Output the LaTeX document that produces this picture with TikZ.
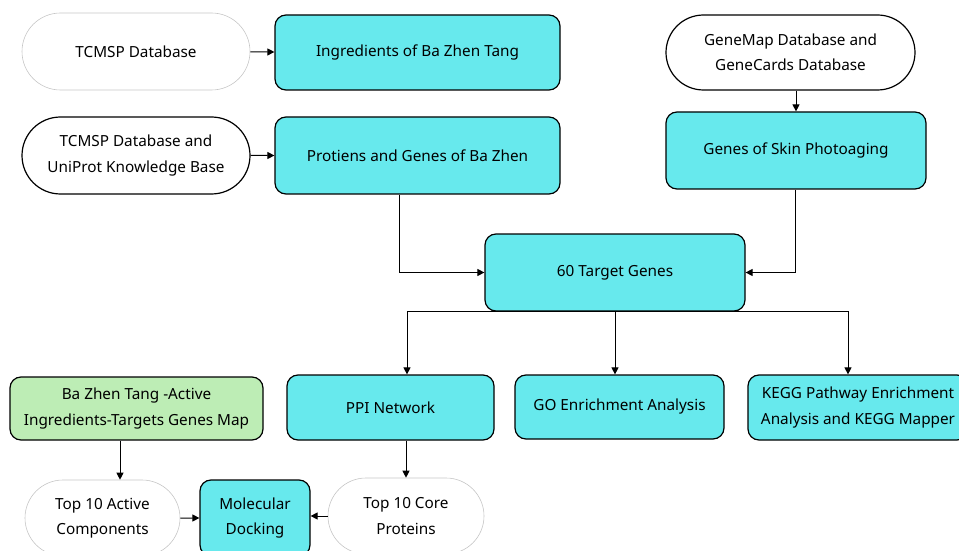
\documentclass[tikz,border=0pt]{standalone}
\usepackage{fontspec}
\setmainfont{Noto Sans}
\usetikzlibrary{positioning,arrows.meta,shapes.misc}
\definecolor{cyanbox}{RGB}{103,233,237}
\definecolor{greenbox}{RGB}{189,237,181}

\begin{document}
\begin{tikzpicture}[x=1pt, y=1pt, font=\fontsize{15.3}{25.5}\selectfont,
    b/.style={draw, rounded corners=11pt, fill=cyanbox, line width=1.2pt, align=center, inner sep=0pt},
    p/.style={rounded rectangle, draw, line width=1.2pt, align=center, inner sep=0pt},
    g/.style={draw=gray!45, line width=0.6pt},
    a/.style={-{Triangle[length=7pt,width=7pt]}, line width=1pt}]
    \useasboundingbox (0,0) rectangle (959,550);
    \node[p, g, minimum width=228, minimum height=77] (T) at (136,498.5) {TCMSP Database};
    \node[b, minimum width=285, minimum height=75] (I) at (417.5,497.5) {Ingredients of Ba Zhen Tang};
    \node[p, minimum width=228, minimum height=77] (U) at (136,394.5) {TCMSP Database and\\UniProt Knowledge Base};
    \node[b, minimum width=285, minimum height=77] (P) at (417.5,394.5) {Protiens and Genes of Ba Zhen};
    \node[p, minimum width=249, minimum height=75] (M) at (790.5,497.5) {GeneMap Database and\\GeneCards Database};
    \node[b, minimum width=260, minimum height=77] (S) at (796,399.5) {Genes of Skin Photoaging};
    \node[b, minimum width=260, minimum height=77] (G) at (615,277.5) {60 Target Genes};
    \node[b, fill=greenbox, minimum width=253, minimum height=63] (C) at (136.5,141.5) {Ba Zhen Tang -Active\\Ingredients-Targets Genes Map};
    \node[b, minimum width=207, minimum height=65] (N) at (390.5,142.5) {PPI Network};
    \node[b, minimum width=209, minimum height=64] (O) at (619.5,143) {GO Enrichment Analysis};
    \node[b, minimum width=220, minimum height=65] (K) at (858,142.5) {KEGG Pathway Enrichment\\Analysis and KEGG Mapper};
    \node[p, g, minimum width=155, minimum height=76] (A) at (102.5,32) {Top 10 Active\\Components};
    \node[b, minimum width=110, minimum height=76] (D) at (255,32) {Molecular\\Docking};
    \node[p, g, minimum width=156, minimum height=76] (R) at (406,34) {Top 10 Core\\Proteins};

    \draw[a] (T) -- (I);
    \draw[a] (U) -- (P);
    \draw[a] (S.north |- M.south) -- (S.north);
    \draw[a] ([xshift=-18.5]P.south) |- (G.west);
    \draw[a] ([xshift=-1]S.south) |- (G.east);
    \draw[a] (G.south) -- (G.south |- O.north);
    \draw[a] (G.south) -| ([xshift=16.5]N.north);
    \draw[a] (G.south) -| ([xshift=-10]K.north);
    \draw[a] ([xshift=-16.5]C.south) -- ([xshift=-16.5]C.south |- A.north);
    \draw[a] (N.south -| R) -- (R.north);
    \draw[a] (A) -- (D);
    \draw[a] (R.west) -- (R.west -| D.east);
\end{tikzpicture}
\end{document}
